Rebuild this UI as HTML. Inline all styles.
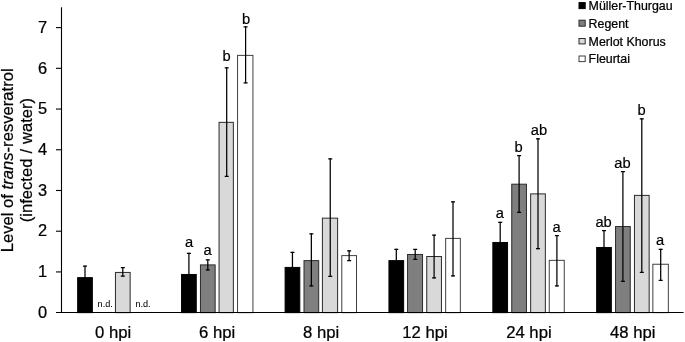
<!DOCTYPE html>
<html><head><meta charset="utf-8"><title>Chart</title>
<style>html,body{margin:0;padding:0;background:#fff}svg{display:block;font-family:"Liberation Sans",sans-serif}text{stroke:#000;stroke-width:.24px}.nd{stroke-width:.05px}.lb{stroke-width:.18px}</style></head>
<body>
<svg width="685" height="342" viewBox="0 0 685 342" fill="#000">
<rect width="685" height="342" fill="#fff"/>
<rect x="77.65" y="277.64" width="14.70" height="35.01" fill="#000000" stroke="#000000" stroke-width="1"/>
<text class="nd" x="105.2" y="306.7" font-size="9.1" text-anchor="middle">n.d.</text>
<rect x="115.45" y="272.43" width="14.70" height="40.22" fill="#d9d9d9" stroke="#2b2b2b" stroke-width="1"/>
<text class="nd" x="143.0" y="306.7" font-size="9.1" text-anchor="middle">n.d.</text>
<rect x="181.55" y="274.47" width="14.70" height="38.18" fill="#000000" stroke="#000000" stroke-width="1"/>
<rect x="200.45" y="264.90" width="14.70" height="47.75" fill="#7f7f7f" stroke="#2b2b2b" stroke-width="1"/>
<rect x="219.05" y="122.34" width="14.30" height="190.31" fill="#d9d9d9" stroke="#2b2b2b" stroke-width="1"/>
<rect x="237.55" y="55.39" width="15.40" height="257.26" fill="#ffffff" stroke="#404040" stroke-width="1"/>
<rect x="285.10" y="267.42" width="14.70" height="45.23" fill="#000000" stroke="#000000" stroke-width="1"/>
<rect x="304.00" y="260.62" width="14.70" height="52.03" fill="#7f7f7f" stroke="#2b2b2b" stroke-width="1"/>
<rect x="322.40" y="218.15" width="15.20" height="94.50" fill="#d9d9d9" stroke="#2b2b2b" stroke-width="1"/>
<rect x="341.80" y="255.61" width="14.70" height="57.04" fill="#ffffff" stroke="#404040" stroke-width="1"/>
<rect x="388.95" y="260.62" width="14.70" height="52.03" fill="#000000" stroke="#000000" stroke-width="1"/>
<rect x="407.55" y="254.47" width="15.00" height="58.18" fill="#7f7f7f" stroke="#2b2b2b" stroke-width="1"/>
<rect x="426.75" y="256.51" width="14.70" height="56.14" fill="#d9d9d9" stroke="#2b2b2b" stroke-width="1"/>
<rect x="445.65" y="238.39" width="14.70" height="74.26" fill="#ffffff" stroke="#404040" stroke-width="1"/>
<rect x="492.85" y="242.46" width="14.70" height="70.19" fill="#000000" stroke="#000000" stroke-width="1"/>
<rect x="511.75" y="184.19" width="14.70" height="128.46" fill="#7f7f7f" stroke="#2b2b2b" stroke-width="1"/>
<rect x="530.65" y="193.88" width="14.70" height="118.77" fill="#d9d9d9" stroke="#2b2b2b" stroke-width="1"/>
<rect x="549.25" y="260.34" width="15.00" height="52.31" fill="#ffffff" stroke="#404040" stroke-width="1"/>
<rect x="596.65" y="247.47" width="14.70" height="65.18" fill="#000000" stroke="#000000" stroke-width="1"/>
<rect x="615.55" y="226.54" width="14.70" height="86.11" fill="#7f7f7f" stroke="#2b2b2b" stroke-width="1"/>
<rect x="634.45" y="195.39" width="14.70" height="117.26" fill="#d9d9d9" stroke="#2b2b2b" stroke-width="1"/>
<rect x="652.85" y="264.25" width="15.50" height="48.40" fill="#ffffff" stroke="#404040" stroke-width="1"/>
<path d="M85.00 265.66V289.03" stroke="#000" stroke-width="1.25" fill="none"/>
<path d="M83.00 266.21h4M83.00 288.48h4" stroke="#000" stroke-width="1.25" fill="none"/>
<path d="M122.80 267.08V276.61" stroke="#000" stroke-width="1.25" fill="none"/>
<path d="M120.80 267.63h4M120.80 276.06h4" stroke="#000" stroke-width="1.25" fill="none"/>
<path d="M188.90 252.83V294.33" stroke="#000" stroke-width="1.25" fill="none"/>
<path d="M186.90 253.38h4M186.90 293.78h4" stroke="#000" stroke-width="1.25" fill="none"/>
<text class="lb" x="189.1" y="247.0" font-size="14.7" text-anchor="middle">a</text>
<path d="M207.80 259.43V270.38" stroke="#000" stroke-width="1.25" fill="none"/>
<path d="M205.80 259.98h4M205.80 269.83h4" stroke="#000" stroke-width="1.25" fill="none"/>
<text class="lb" x="207.7" y="255.1" font-size="14.7" text-anchor="middle">a</text>
<path d="M226.70 67.27V177.01" stroke="#000" stroke-width="1.25" fill="none"/>
<path d="M224.70 67.82h4M224.70 176.46h4" stroke="#000" stroke-width="1.25" fill="none"/>
<text class="lb" x="226.5" y="60.7" font-size="14.7" text-anchor="middle">b</text>
<path d="M245.60 26.39V83.40" stroke="#000" stroke-width="1.25" fill="none"/>
<path d="M243.60 26.94h4M243.60 82.85h4" stroke="#000" stroke-width="1.25" fill="none"/>
<text class="lb" x="246.2" y="23.5" font-size="14.7" text-anchor="middle">b</text>
<path d="M292.45 251.90V282.11" stroke="#000" stroke-width="1.25" fill="none"/>
<path d="M290.45 252.45h4M290.45 281.56h4" stroke="#000" stroke-width="1.25" fill="none"/>
<path d="M311.35 233.37V286.39" stroke="#000" stroke-width="1.25" fill="none"/>
<path d="M309.35 233.92h4M309.35 285.84h4" stroke="#000" stroke-width="1.25" fill="none"/>
<path d="M330.25 158.20V276.94" stroke="#000" stroke-width="1.25" fill="none"/>
<path d="M328.25 158.75h4M328.25 276.39h4" stroke="#000" stroke-width="1.25" fill="none"/>
<path d="M349.15 250.35V261.06" stroke="#000" stroke-width="1.25" fill="none"/>
<path d="M347.15 250.90h4M347.15 260.51h4" stroke="#000" stroke-width="1.25" fill="none"/>
<path d="M396.30 248.72V271.93" stroke="#000" stroke-width="1.25" fill="none"/>
<path d="M394.30 249.27h4M394.30 271.38h4" stroke="#000" stroke-width="1.25" fill="none"/>
<path d="M415.20 248.92V259.88" stroke="#000" stroke-width="1.25" fill="none"/>
<path d="M413.20 249.47h4M413.20 259.33h4" stroke="#000" stroke-width="1.25" fill="none"/>
<path d="M434.10 234.63V278.45" stroke="#000" stroke-width="1.25" fill="none"/>
<path d="M432.10 235.18h4M432.10 277.90h4" stroke="#000" stroke-width="1.25" fill="none"/>
<path d="M453.00 201.20V276.53" stroke="#000" stroke-width="1.25" fill="none"/>
<path d="M451.00 201.75h4M451.00 275.98h4" stroke="#000" stroke-width="1.25" fill="none"/>
<path d="M500.20 221.80V262.16" stroke="#000" stroke-width="1.25" fill="none"/>
<path d="M498.20 222.35h4M498.20 261.61h4" stroke="#000" stroke-width="1.25" fill="none"/>
<text class="lb" x="499.9" y="217.5" font-size="14.7" text-anchor="middle">a</text>
<path d="M519.10 155.19V212.89" stroke="#000" stroke-width="1.25" fill="none"/>
<path d="M517.10 155.74h4M517.10 212.34h4" stroke="#000" stroke-width="1.25" fill="none"/>
<text class="lb" x="518.5" y="151.8" font-size="14.7" text-anchor="middle">b</text>
<path d="M538.00 138.33V249.21" stroke="#000" stroke-width="1.25" fill="none"/>
<path d="M536.00 138.88h4M536.00 248.66h4" stroke="#000" stroke-width="1.25" fill="none"/>
<text class="lb" x="539.0" y="135.4" font-size="14.7" text-anchor="middle">ab</text>
<path d="M556.90 234.96V286.51" stroke="#000" stroke-width="1.25" fill="none"/>
<path d="M554.90 235.51h4M554.90 285.96h4" stroke="#000" stroke-width="1.25" fill="none"/>
<text class="lb" x="556.7" y="231.7" font-size="14.7" text-anchor="middle">a</text>
<path d="M604.00 230.11V264.19" stroke="#000" stroke-width="1.25" fill="none"/>
<path d="M602.00 230.66h4M602.00 263.64h4" stroke="#000" stroke-width="1.25" fill="none"/>
<text class="lb" x="603.6" y="226.7" font-size="14.7" text-anchor="middle">ab</text>
<path d="M622.90 171.11V281.82" stroke="#000" stroke-width="1.25" fill="none"/>
<path d="M620.90 171.66h4M620.90 281.27h4" stroke="#000" stroke-width="1.25" fill="none"/>
<text class="lb" x="622.5" y="168.4" font-size="14.7" text-anchor="middle">ab</text>
<path d="M641.80 118.33V272.87" stroke="#000" stroke-width="1.25" fill="none"/>
<path d="M639.80 118.88h4M639.80 272.32h4" stroke="#000" stroke-width="1.25" fill="none"/>
<text class="lb" x="641.7" y="115.1" font-size="14.7" text-anchor="middle">b</text>
<path d="M660.70 248.84V280.97" stroke="#000" stroke-width="1.25" fill="none"/>
<path d="M658.70 249.39h4M658.70 280.42h4" stroke="#000" stroke-width="1.25" fill="none"/>
<text class="lb" x="660.2" y="245.2" font-size="14.7" text-anchor="middle">a</text>
<path d="M61.5 7.2V313M56 312.55H683.6" stroke="#000" stroke-width="1.1" fill="none"/>
<path d="M56 271.93H61.5" stroke="#000" stroke-width="1.1"/>
<path d="M56 231.21H61.5" stroke="#000" stroke-width="1.1"/>
<path d="M56 190.49H61.5" stroke="#000" stroke-width="1.1"/>
<path d="M56 149.77H61.5" stroke="#000" stroke-width="1.1"/>
<path d="M56 109.05H61.5" stroke="#000" stroke-width="1.1"/>
<path d="M56 68.33H61.5" stroke="#000" stroke-width="1.1"/>
<path d="M56 27.61H61.5" stroke="#000" stroke-width="1.1"/>
<text x="47" y="318.1" font-size="16.4" text-anchor="end">0</text>
<text x="47" y="276.9" font-size="16.4" text-anchor="end">1</text>
<text x="47" y="236.4" font-size="16.4" text-anchor="end">2</text>
<text x="47" y="196.0" font-size="16.4" text-anchor="end">3</text>
<text x="47" y="155.3" font-size="16.4" text-anchor="end">4</text>
<text x="47" y="113.7" font-size="16.4" text-anchor="end">5</text>
<text x="47" y="73.5" font-size="16.4" text-anchor="end">6</text>
<text x="47" y="33.2" font-size="16.4" text-anchor="end">7</text>
<text x="113.2" y="337.7" font-size="16.7" text-anchor="middle">0 hpi</text>
<text x="217.2" y="337.7" font-size="16.7" text-anchor="middle">6 hpi</text>
<text x="321.1" y="337.7" font-size="16.7" text-anchor="middle">8 hpi</text>
<text x="425.0" y="337.7" font-size="16.7" text-anchor="middle">12 hpi</text>
<text x="528.9" y="337.7" font-size="16.7" text-anchor="middle">24 hpi</text>
<text x="632.8" y="337.7" font-size="16.7" text-anchor="middle">48 hpi</text>
<text transform="translate(13.2 160.3) rotate(-90)" font-size="16.64" text-anchor="middle">Level of <tspan font-style="italic">trans</tspan>-resveratrol</text>
<text transform="translate(31.6 160.1) rotate(-90)" font-size="16.64" word-spacing="0.35" text-anchor="middle">(infected / water)</text>
<rect x="579.0" y="2.60" width="6.2" height="6.0" fill="#000000" stroke="#000000" stroke-width="1"/>
<text x="588.6" y="9.7" font-size="12.4">Müller-Thurgau</text>
<rect x="579.0" y="20.20" width="6.2" height="6.0" fill="#7f7f7f" stroke="#2b2b2b" stroke-width="1"/>
<text x="588.6" y="27.9" font-size="12.4">Regent</text>
<rect x="579.0" y="38.50" width="6.2" height="5.4" fill="#d9d9d9" stroke="#2b2b2b" stroke-width="1"/>
<text x="588.6" y="45.9" font-size="12.4">Merlot Khorus</text>
<rect x="579.0" y="56.00" width="6.2" height="5.6" fill="#ffffff" stroke="#404040" stroke-width="1"/>
<text x="588.6" y="63.1" font-size="12.4">Fleurtai</text>
</svg>
</body></html>
